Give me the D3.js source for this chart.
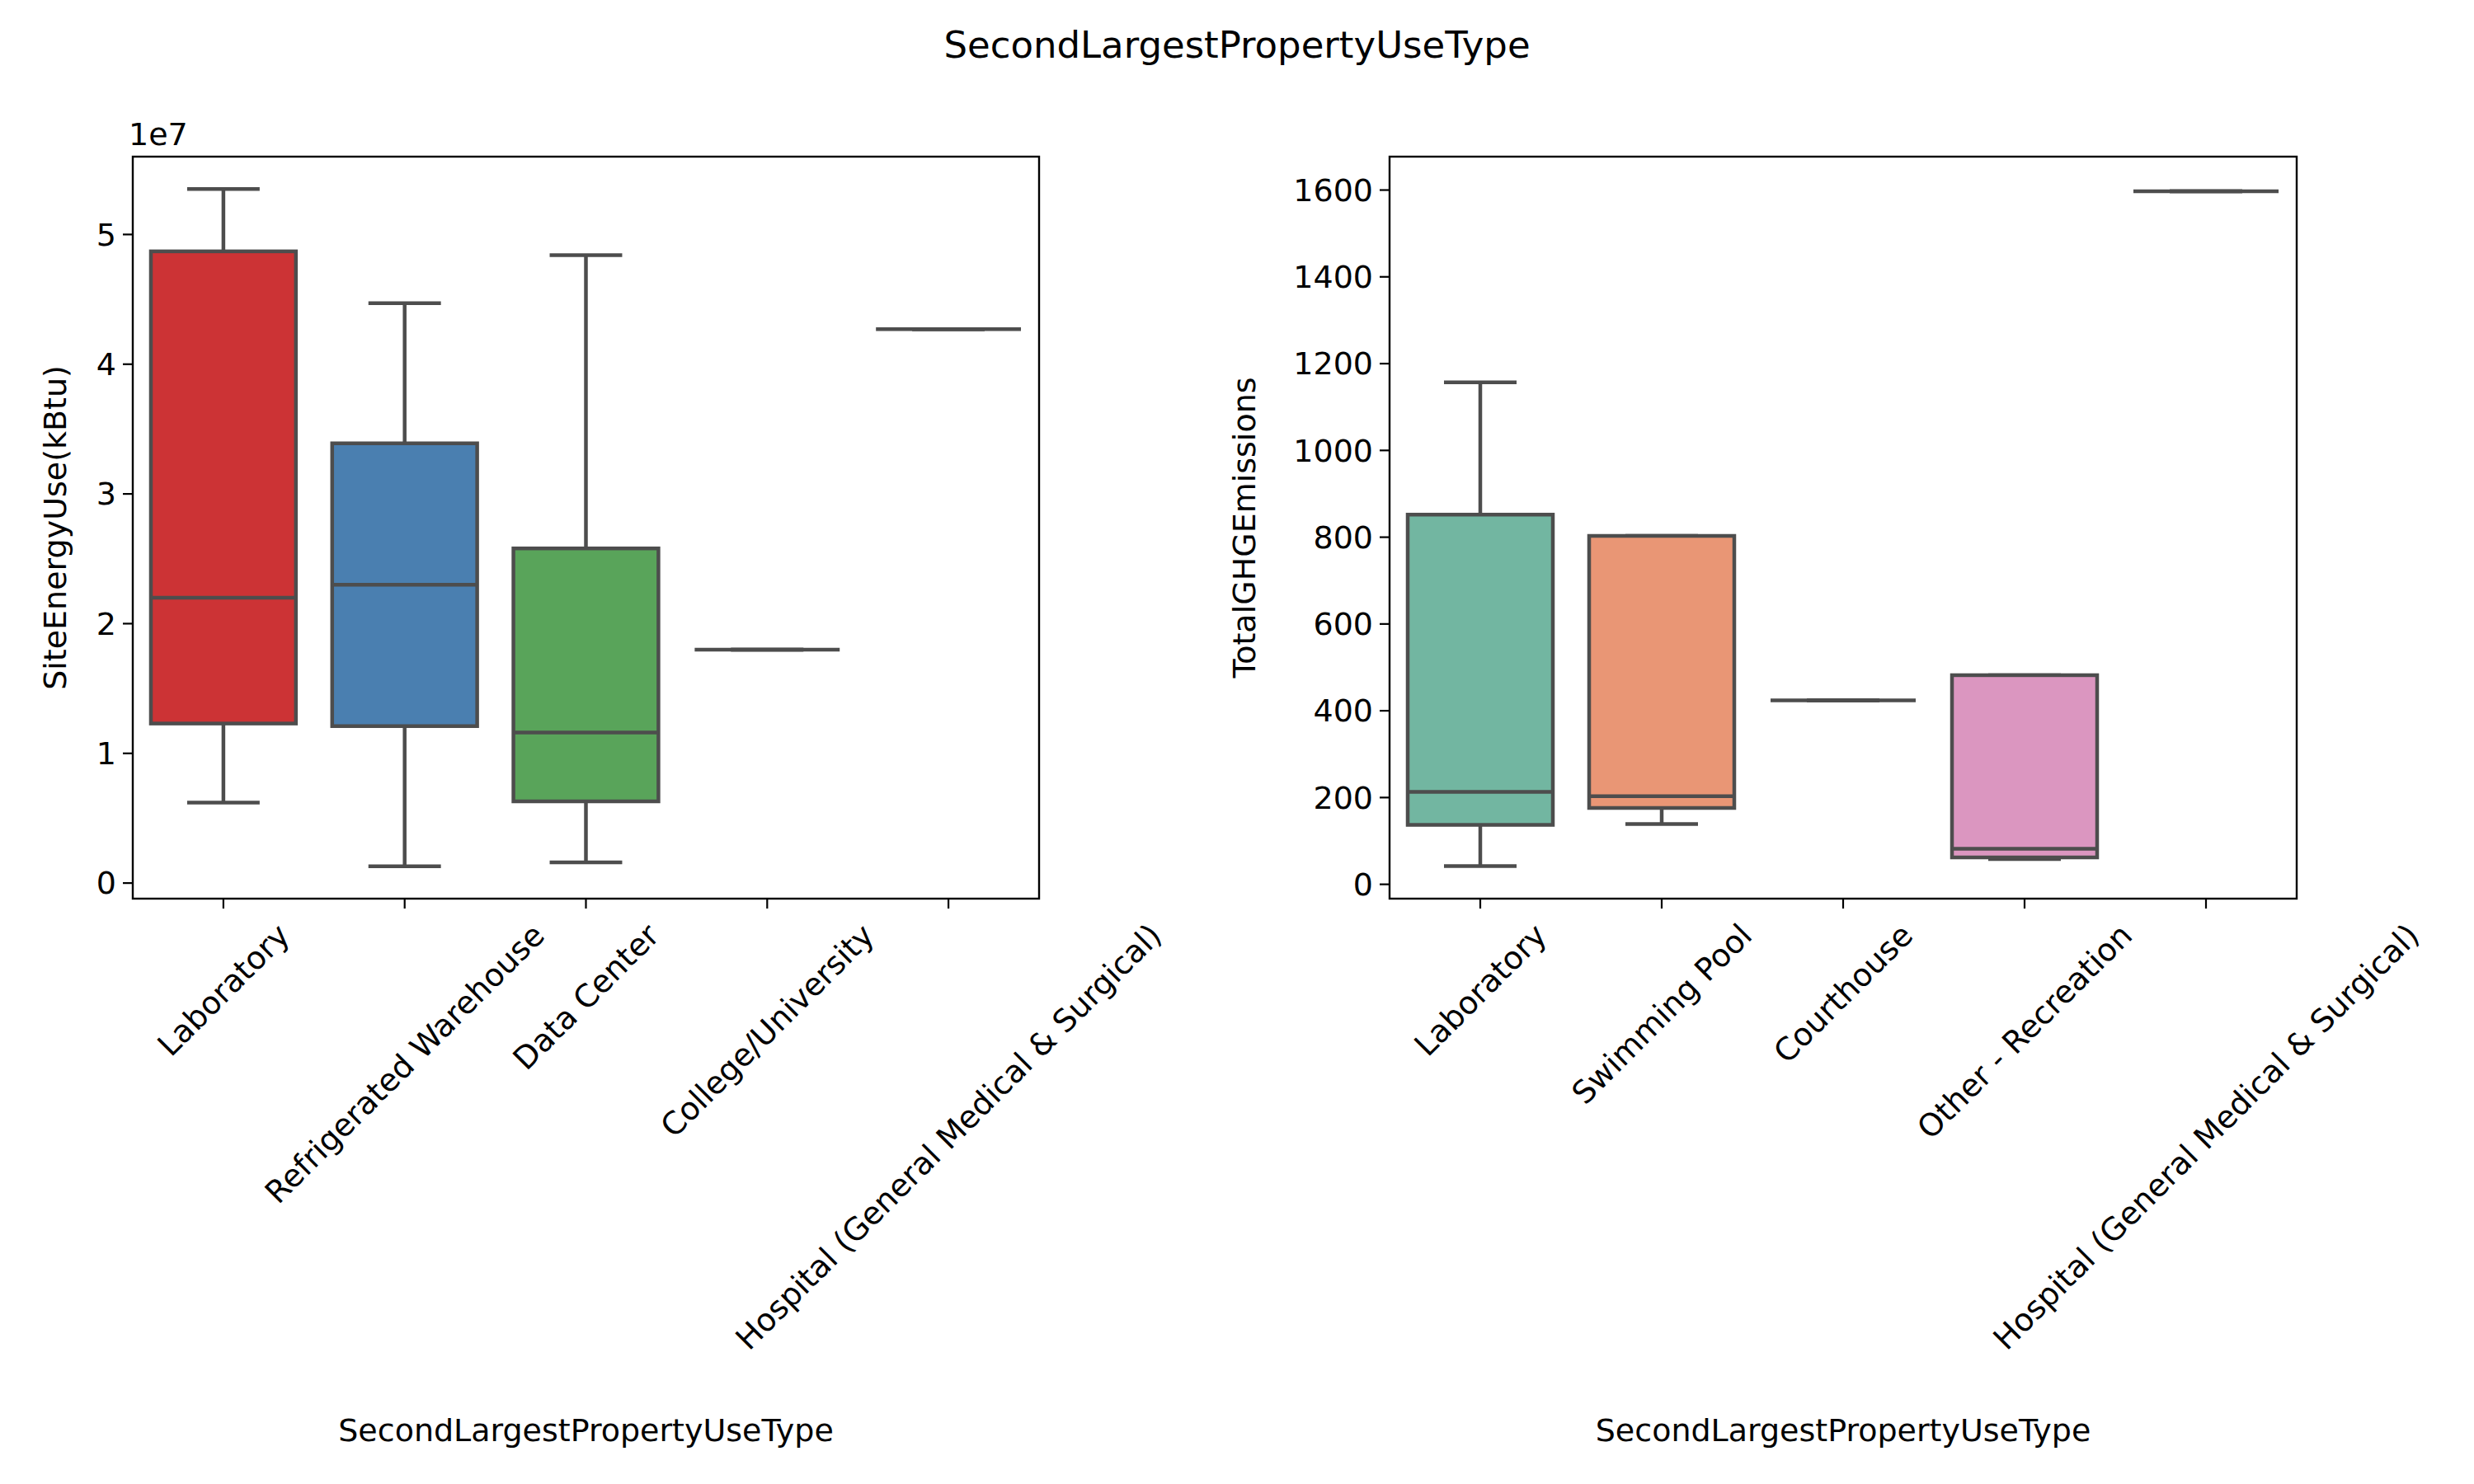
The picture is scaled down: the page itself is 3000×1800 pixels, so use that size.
<!DOCTYPE html>
<html><head><meta charset="utf-8">
<script src="https://cdn.jsdelivr.net/npm/d3@7"></script>
<style>body{margin:0;background:#fff}text{font-family:"DejaVu Sans",sans-serif;fill:#000}</style>
</head><body>
<svg id="chart" width="3000" height="1800"></svg>
<script>
// left panel: SiteEnergyUse (units of 1e7 kBtu)
const leftCats = ['Laboratory', 'Refrigerated Warehouse', 'Data Center', 'College/University', 'Hospital (General Medical & Surgical)'];
const leftStats = [ // [lowWhisker, q1, median, q3, highWhisker]
  [0.62, 1.23, 2.20, 4.87, 5.35],
  [0.13, 1.21, 2.30, 3.39, 4.47],
  [0.16, 0.63, 1.16, 2.58, 4.84],
  [1.80, 1.80, 1.80, 1.80, 1.80],
  [4.27, 4.27, 4.27, 4.27, 4.27]
];
const leftColors = ['#cc3335', '#4a7fb0', '#59a45a', '#8f5a99', '#e5862a'];
const leftTicks = [0, 1, 2, 3, 4, 5];

// right panel: TotalGHGEmissions
const rightCats = ['Laboratory', 'Swimming Pool', 'Courthouse', 'Other - Recreation', 'Hospital (General Medical & Surgical)'];
const rightStats = [
  [42, 137, 213, 852, 1157],
  [139, 176, 203, 803, 803],
  [424, 424, 424, 424, 424],
  [58, 62, 82, 482, 482],
  [1597, 1597, 1597, 1597, 1597]
];
const rightColors = ['#72b6a1', '#e99675', '#95a3c3', '#db96c0', '#b6d77a'];
const rightTicks = [0, 200, 400, 600, 800, 1000, 1200, 1400, 1600];

const svg = d3.select('#chart');
const fs = '38px';
svg.append('text').attr('x', 1500).attr('y', 70).attr('text-anchor', 'middle')
  .style('font-size', '45px').text('SecondLargestPropertyUseType');

function panel(opt){
  const {x0, x1, y0, y1} = opt;
  const g = svg.append('g');
  const x = d3.scaleBand().domain(opt.cats).range([x0, x1]).padding(0);
  const y = d3.scaleLinear().domain(opt.domain).range([y1, y0]);
  const step = x.step(), bw = step * 0.8;
  const lw = 4.5, grey = '#4d4d4d';

  opt.cats.forEach((c, i) => {
    const [lo, q1, med, q3, hi] = opt.stats[i];
    const cx = x(c) + step / 2, bx = cx - bw / 2;
    g.append('line').attr('x1', cx).attr('x2', cx).attr('y1', y(lo)).attr('y2', y(q1)).attr('stroke', grey).attr('stroke-width', lw);
    g.append('line').attr('x1', cx).attr('x2', cx).attr('y1', y(q3)).attr('y2', y(hi)).attr('stroke', grey).attr('stroke-width', lw);
    [lo, hi].forEach(v => g.append('line').attr('x1', cx - bw / 4).attr('x2', cx + bw / 4)
      .attr('y1', y(v)).attr('y2', y(v)).attr('stroke', grey).attr('stroke-width', lw));
    g.append('rect').attr('x', bx).attr('width', bw).attr('y', y(q3)).attr('height', y(q1) - y(q3))
      .attr('fill', opt.colors[i]).attr('stroke', grey).attr('stroke-width', lw);
    g.append('line').attr('x1', bx).attr('x2', bx + bw).attr('y1', y(med)).attr('y2', y(med)).attr('stroke', grey).attr('stroke-width', lw);
  });

  g.append('rect').attr('x', x0).attr('y', y0).attr('width', x1 - x0).attr('height', y1 - y0)
    .attr('fill', 'none').attr('stroke', '#000').attr('stroke-width', 2.4);

  // y axis
  opt.ticks.forEach(t => {
    g.append('line').attr('x1', x0 - 12).attr('x2', x0).attr('y1', y(t)).attr('y2', y(t)).attr('stroke', '#000').attr('stroke-width', 2.2);
    g.append('text').attr('x', x0 - 20).attr('y', y(t)).attr('dy', '0.35em').attr('text-anchor', 'end')
      .style('font-size', fs).text(t);
  });
  // x axis
  opt.cats.forEach(c => {
    const cx = x(c) + step / 2;
    g.append('line').attr('x1', cx).attr('x2', cx).attr('y1', y1).attr('y2', y1 + 12).attr('stroke', '#000').attr('stroke-width', 2.2);
    const t = g.append('text').attr('text-anchor', 'middle').attr('dy', '0.35em').style('font-size', fs).text(c);
    const w = t.node().getComputedTextLength(), h = 44;
    const bh = (w + h) * Math.SQRT1_2;
    t.attr('transform', `translate(${cx},${y1 + 22 + bh / 2}) rotate(-45)`);
  });
  g.append('text').attr('x', (x0 + x1) / 2).attr('y', 1748).attr('text-anchor', 'middle')
    .style('font-size', fs).text('SecondLargestPropertyUseType');
  g.append('text').attr('transform', `translate(${opt.ylx},${(y0 + y1) / 2}) rotate(-90)`)
    .attr('text-anchor', 'middle').style('font-size', fs).text(opt.ylabel);
  if (opt.offset) g.append('text').attr('x', x0 - 5).attr('y', y0 - 14).style('font-size', fs).text(opt.offset);
}

panel({x0: 161, x1: 1260, y0: 190, y1: 1090, cats: leftCats, stats: leftStats, colors: leftColors,
  domain: [-0.12, 5.6], ticks: leftTicks, ylabel: 'SiteEnergyUse(kBtu)', ylx: 80, offset: '1e7'});
panel({x0: 1685, x1: 2785, y0: 190, y1: 1090, cats: rightCats, stats: rightStats, colors: rightColors,
  domain: [-33, 1677], ticks: rightTicks, ylabel: 'TotalGHGEmissions', ylx: 1522});
</script>
</body></html>
